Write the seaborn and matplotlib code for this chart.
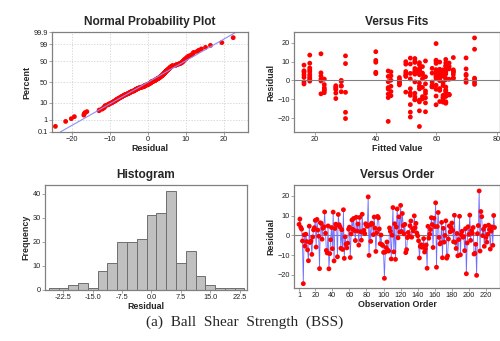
import matplotlib
matplotlib.use("Agg")
import numpy as np
import matplotlib.pyplot as plt
import seaborn as sns
from statistics import NormalDist

# residuals in observation order
residuals = [
    5.6, 8.3, 4.1, 3.2, -2.8, -24.4, 0.3, -5.4, 0.6, -3.1,
    -7.3, -12.8, 4.7, -3.6, -2.9, -9.6, -0.8, 2.8, 3.9, 7.6,
    -5.9, 8.1, 2.7, -0.4, -16.8, 6.4, 6.1, -1.9, 3.6, 4.4,
    11.9, 1.1, -7.6, -8.9, 4.8, -16.9, -9.2, -2.2, 4.0, -6.7,
    11.8, -12.9, 3.5, 5.7, 5.2, -10.8, 10.6, 5.4, 4.3, -6.5,
    2.9, -7.1, 13.0, -11.6, -0.7, -4.4, -6.3, -3.9, 3.2, 4.2,
    -11.2, 0.8, 7.8, 3.1, 8.6, 2.4, -2.6, 9.2, 2.2, 5.8,
    -4.9, 9.1, 1.9, -2.4, 10.7, 1.6, 2.6, 0.9, 5.9, 5.1,
    4.6, 19.5, -10.1, 5.3, -3.0, 6.2, 5.7, 0.4, 9.3, 3.7,
    -8.1, 1.4, 9.6, 8.9, 3.3, -4.2, 0.2, -4.6, -5.1, -8.6,
    -21.7, -8.4, -6.2, -3.3, -7.4, -7.9, 3.8, 2.1, -11.9, 0.1,
    14.1, -8.3, 5.9, -12.1, 4.2, 13.4, -1.2, 9.4, 1.7, 15.2,
    2.0, 11.1, 5.0, 0.8, 5.6, -8.7, -7.2, -1.1, 1.5, -0.3,
    4.9, 7.3, -0.9, 3.4, 2.3, 9.9, 3.9, 6.1, 1.2, -0.2,
    -2.7, -11.4, -5.6, -4.7, -6.0, -5.2, -1.6, -8.4, -6.8, -4.8,
    -16.6, 4.6, -1.4, 0.7, 3.0, 9.0, 5.5, -6.1, 8.7, 4.5,
    16.5, -16.1, 4.5, 11.6, -1.0, -4.3, -3.7, 6.6, -11.3, 3.6,
    -3.4, 0.0, 7.4, -11.5, -10.4, -1.8, 4.8, 1.8, 4.1, 6.3,
    2.5, -3.2, 10.2, -3.5, -6.6, 1.0, -10.3, -2.1, 9.7, -9.8,
    0.4, 2.1, -0.9, -0.6, -7.7, 3.4, -19.4, -3.8, 4.4, 0.5,
    10.3, -2.5, 2.4, 1.1, 4.0, -9.4, -9.1, -4.5, -20.2, 0.9,
    5.0, 22.5, -7.9, 12.1, 9.5, -0.1, 3.1, -5.5, 4.7, -1.0,
    -3.4, 0.6, 5.2, 3.0, -6.9, 2.2, 4.3, -5.0, 10.1, 4.0,
]

# fitted value of each observation (same order)
fits = [
    62.2, 54.4, 59.9, 69.8, 26.8, 54.4, 18.2, 23.0, 21.9, 45.0,
    63.1, 51.4, 65.6, 26.8, 28.6, 26.8, 52.9, 61.1, 55.4, 63.1,
    45.0, 16.3, 49.9, 18.2, 51.4, 58.6, 69.8, 16.3, 40.0, 16.3,
    69.8, 18.2, 64.2, 62.2, 54.4, 30.0, 56.4, 23.0, 21.9, 26.8,
    51.4, 59.9, 61.1, 63.1, 52.9, 62.2, 40.0, 54.4, 40.0, 23.0,
    59.9, 21.9, 30.0, 63.1, 44.1, 51.4, 30.0, 23.0, 65.6, 52.9,
    61.1, 55.4, 63.1, 18.2, 49.9, 45.0, 58.6, 64.2, 62.2, 54.4,
    26.8, 18.2, 56.4, 47.8, 59.9, 16.3, 69.8, 61.1, 63.1, 16.3,
    18.2, 59.9, 52.9, 62.2, 28.6, 54.4, 59.9, 47.8, 63.1, 51.4,
    45.0, 65.6, 40.0, 30.0, 52.9, 26.8, 69.8, 44.1, 61.1, 55.4,
    44.1, 63.1, 49.9, 58.6, 64.2, 62.2, 54.4, 44.1, 56.4, 45.0,
    21.9, 59.9, 61.1, 63.1, 52.9, 18.2, 62.2, 54.4, 59.9, 40.0,
    18.2, 63.1, 44.1, 51.4, 65.6, 52.9, 44.1, 47.8, 47.8, 21.9,
    61.1, 55.4, 16.3, 63.1, 21.9, 49.9, 58.6, 64.2, 72.6, 47.8,
    62.2, 54.4, 56.4, 59.9, 28.6, 61.1, 47.8, 63.1, 52.9, 23.0,
    56.4, 62.2, 54.4, 23.0, 16.3, 59.9, 18.2, 63.1, 51.4, 45.0,
    72.6, 54.4, 65.6, 52.9, 69.8, 61.1, 55.4, 18.2, 63.1, 49.9,
    58.6, 28.6, 64.2, 62.2, 54.4, 56.4, 59.9, 61.1, 63.1, 52.9,
    62.2, 54.4, 59.9, 63.1, 51.4, 65.6, 52.9, 72.6, 61.1, 55.4,
    63.1, 49.9, 58.6, 28.6, 64.2, 62.2, 51.4, 44.1, 54.4, 72.6,
    56.4, 59.9, 61.1, 63.1, 52.9, 62.2, 44.1, 54.4, 30.0, 59.9,
    63.1, 72.6, 51.4, 65.6, 52.9, 61.1, 55.4, 63.1, 49.9, 72.6,
    58.6, 64.2, 62.2, 54.4, 56.4, 59.9, 61.1, 63.1, 52.9, 62.2,
]

order = list(range(1, len(residuals) + 1))

pct_ticks = [0.1, 1, 10, 50, 90, 99, 99.9]
pct_labels = ["0.1", "1", "10", "50", "90", "99", "99.9"]
hist_ticks = [-22.5, -15.0, -7.5, 0.0, 7.5, 15.0, 22.5]
order_ticks = [1, 20, 40, 60, 80, 100, 120, 140, 160, 180, 200, 220]

sns.set_style("white")
plt.rcParams["font.family"] = ["Liberation Sans", "DejaVu Sans"]

RED = "#ff0000"
GRAY = "#808080"

fig = plt.figure(figsize=(5, 3.41), dpi=100)


def style(ax, title, xlabel, ylabel):
    ax.set_title(title, fontsize=8.6, fontweight="bold", pad=5)
    ax.set_xlabel(xlabel, fontsize=6.4, fontweight="bold", labelpad=0.5)
    ax.set_ylabel(ylabel, fontsize=6.4, fontweight="bold", labelpad=1.5)
    for s in ax.spines.values():
        s.set_color(GRAY)
        s.set_linewidth(0.9)
    ax.tick_params(axis="both", labelsize=5.3, length=2, width=0.5,
                   color=GRAY, pad=1, labelcolor="#222222",
                   bottom=True, left=True)


# Normal probability plot
ax1 = fig.add_axes([0.104, 0.613, 0.392, 0.293])
r = np.sort(np.array(residuals))
n = len(r)
nd = NormalDist()
z = np.array([nd.inv_cdf((i - 0.3) / (n + 0.4)) for i in range(1, n + 1)])
mu, sd = r.mean(), r.std(ddof=1)
zlim = (nd.inv_cdf(0.001), nd.inv_cdf(0.999))
sns.lineplot(x=[mu + sd * zlim[0], mu + sd * zlim[1]], y=list(zlim), ax=ax1,
             color="#8c8cff", lw=0.8)
sns.scatterplot(x=r, y=z, ax=ax1, color=RED, s=12, edgecolor="none")
ax1.set_ylim(*zlim)
ax1.set_xlim(-25.3, 26.4)
ax1.set_yticks([nd.inv_cdf(p / 100) for p in pct_ticks])
ax1.set_yticklabels(pct_labels)
ax1.set_xticks([-20, -10, 0, 10, 20])
ax1.grid(True, ls=(0, (2, 2)), color="#cccccc", lw=0.5)
style(ax1, "Normal Probability Plot", "Residual", "Percent")

# Versus fits
ax2 = fig.add_axes([0.588, 0.613, 0.412, 0.293])
ax2.axhline(0, color=GRAY, lw=0.8)
sns.scatterplot(x=fits, y=residuals, ax=ax2, color=RED, s=12, edgecolor="none")
ax2.set_xlim(13, 81)
ax2.set_ylim(-27.3, 25.6)
ax2.set_xticks([20, 40, 60, 80])
ax2.set_yticks([-20, -10, 0, 10, 20])
style(ax2, "Versus Fits", "Fitted Value", "Residual")

# Histogram
ax3 = fig.add_axes([0.09, 0.1496, 0.404, 0.308])
sns.histplot(x=residuals, bins=np.arange(-26.25, 23.76, 2.5), ax=ax3,
             color="#c0c0c0", edgecolor="#6e6e6e", linewidth=0.7, alpha=1)
ax3.set_xlim(-27.2, 24.4)
ax3.set_ylim(0, 43.6)
ax3.set_xticks(hist_ticks)
ax3.set_xticklabels([f"{t:.1f}" for t in hist_ticks])
ax3.set_yticks([0, 10, 20, 30, 40])
style(ax3, "Histogram", "Residual", "Frequency")

# Versus order
ax4 = fig.add_axes([0.588, 0.1554, 0.412, 0.302])
ax4.axhline(0, color=GRAY, lw=0.8)
sns.lineplot(x=order, y=residuals, ax=ax4, color="#6f6fff", lw=0.6)
sns.scatterplot(x=order, y=residuals, ax=ax4, color=RED, s=12, edgecolor="none",
                zorder=3)
ax4.set_xlim(-4.9, 236.4)
ax4.set_ylim(-26.6, 25.5)
ax4.set_xticks(order_ticks)
ax4.set_yticks([-20, -10, 0, 10, 20])
style(ax4, "Versus Order", "Observation Order", "Residual")

fig.text(0.49, 0.055, "(a)  Ball  Shear  Strength  (BSS)", ha="center",
         va="center", fontsize=11, family=["Liberation Serif", "DejaVu Serif"])

fig.savefig("out.png", dpi=100)
